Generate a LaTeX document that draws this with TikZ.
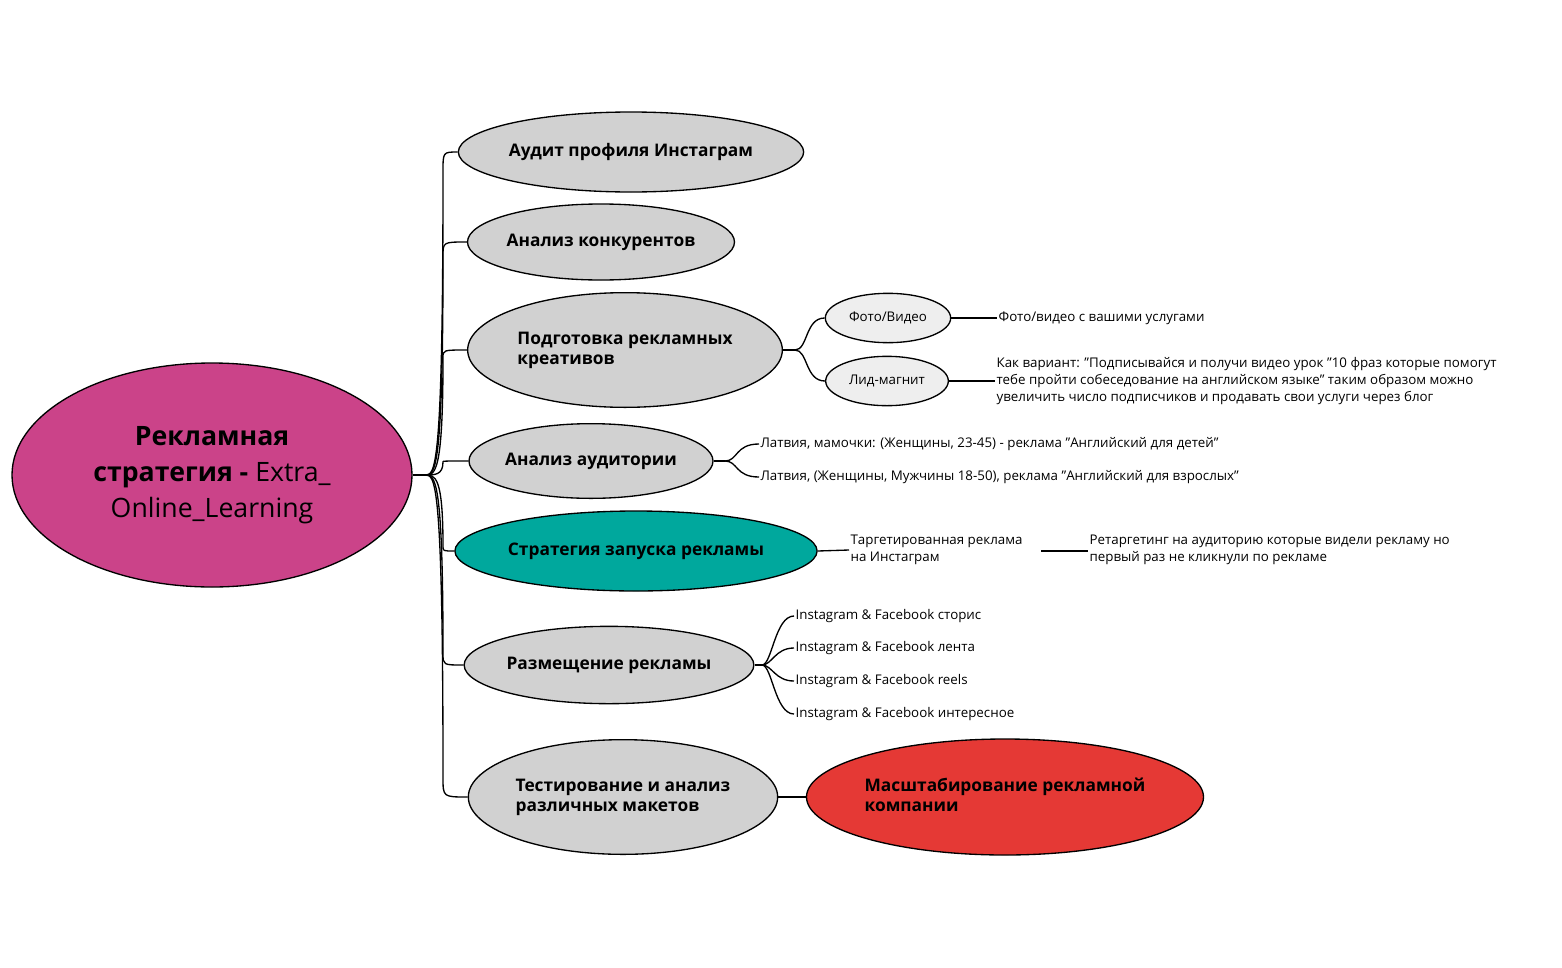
\documentclass[tikz,border=0pt]{standalone}
\usepackage{fontspec}
\setmainfont{Open Sans}
\usetikzlibrary{shapes.geometric}
\definecolor{cmag}{RGB}{203,67,137}
\definecolor{cteal}{RGB}{0,168,157}
\definecolor{cred}{RGB}{229,57,53}
\definecolor{cgray}{RGB}{209,209,209}
\definecolor{clight}{RGB}{238,238,238}
\begin{document}
\begin{tikzpicture}[x=0.75pt,y=-0.75pt,
 el/.style={ellipse,draw=black,line width=1pt,inner sep=0pt,fill=#1},
 el/.default={cgray},
 big/.style={font=\fontsize{13}{15}\selectfont\bfseries},
 sm/.style={font=\fontsize{10}{12}\selectfont},
 leaf/.style={anchor=west,inner sep=1pt,font=\fontsize{10}{13}\selectfont,align=left},
 ln/.style={line width=1pt}]
\useasboundingbox (0,0) rectangle (1562,967);
\node[el=cmag,minimum width=300pt,minimum height=168pt,align=center,font=\fontsize{20}{27}\selectfont] (root) at (212,475)
 {\textbf{Рекламная}\\\textbf{стратегия -} Extra\_\\Online\_Learning};
\node[el,big,minimum width=244pt,minimum height=60pt] (n1) at (631,152) {Аудит профиля Инстаграм};
\node[el,big,minimum width=200pt,minimum height=57pt] (n2) at (601,242) {Анализ конкурентов};
\node[el,big,minimum width=236pt,minimum height=86pt] (n3) at (625,350) {\begin{tabular}{@{}l@{}}Подготовка рекламных\\креативов\end{tabular}\hspace{30pt}};
\node[el,big,minimum width=183pt,minimum height=56pt] (n4) at (591,461) {Анализ аудитории};
\node[el=cteal,big,minimum width=252pt,minimum height=60pt] (n5) at (636,551) {Стратегия запуска рекламы};
\node[el,big,minimum width=210pt,minimum height=58pt] (n6) at (609,665) {Размещение рекламы};
\node[el,big,minimum width=232pt,minimum height=86pt] (n7) at (623,797) {\begin{tabular}{@{}l@{}}Тестирование и анализ\\различных макетов\end{tabular}\hspace{30pt}};
\node[el=cred,big,minimum width=276pt,minimum height=87pt] (n8) at (1005,797) {\begin{tabular}{@{}l@{}}Масштабирование рекламной\\компании\end{tabular}\hspace{40pt}};
\node[el=clight,sm,minimum width=94pt,minimum height=37pt] (f) at (888,318) {Фото/Видео};
\node[el=clight,sm,minimum width=92pt,minimum height=37pt] (l) at (887,381) {Лид-магнит};
% root connectors
\coordinate (h) at (425,475);
\draw[ln] (root.east) -- (h);
\foreach \n/\y in {n1/152,n2/242,n3/350,n4/461,n5/551,n6/665,n7/797}{
  \draw[ln] (h) .. controls (435,475) and (443,475) .. (443,{\y+(475-\y)*0.06}) .. controls (443,\y) .. (\n.west);
}
% n3
\coordinate (h3) at (795,350);
\draw[ln] (n3.east) -- (h3);
\draw[ln] (h3) .. controls (808,350) and (805,318) .. (f.west);
\draw[ln] (h3) .. controls (808,350) and (805,381) .. (l.west);
\node[leaf] (ft) at (997,318) {Фото/видео с вашими услугами};
\draw[ln] (f.east) -- (ft.west);
\node[leaf] (lt) at (995,381) {Как вариант: "Подписывайся и получи видео урок "10 фраз которые помогут\\тебе пройти собеседование на английском языке" таким образом можно\\увеличить число подписчиков и продавать свои услуги через блог};
\draw[ln] (l.east) -- (lt.west);
% n4
\coordinate (h4) at (725,461);
\draw[ln] (n4.east) -- (h4);
\node[leaf] (a1) at (759,444) {Латвия, мамочки: (Женщины, 23-45) - реклама "Английский для детей"};
\node[leaf] (a2) at (759,477) {Латвия, (Женщины, Мужчины 18-50), реклама "Английский для взрослых"};
\draw[ln] (h4) .. controls (738,461) and (735,444) .. (a1.west);
\draw[ln] (h4) .. controls (738,461) and (735,477) .. (a2.west);
% n5
\node[leaf] (t1) at (849,550) {Таргетированная реклама\\на Инстаграм};
\node[leaf] (t2) at (1088,550) {Ретаргетинг на аудиторию которые видели рекламу но\\первый раз не кликнули по рекламе};
\draw[ln] (n5.east) -- (t1.west);
\coordinate (c1) at (1041,551);
\draw[ln] (c1) -- (t2.west |- c1);
% n6
\coordinate (h6) at (762,665);
\draw[ln] (n6.east) -- (h6);
\foreach \k/\y/\t in {p1/616/сторис,p2/648/лента,p3/681/reels,p4/714/интересное}{
  \node[leaf] (\k) at (794,\y) {Instagram \& Facebook \t};
  \draw[ln] (h6) .. controls (772,665) and (775,\y) .. (\k.west);
}
% n7
\draw[ln] (n7.east) -- (n8.west);
\end{tikzpicture}
\end{document}
